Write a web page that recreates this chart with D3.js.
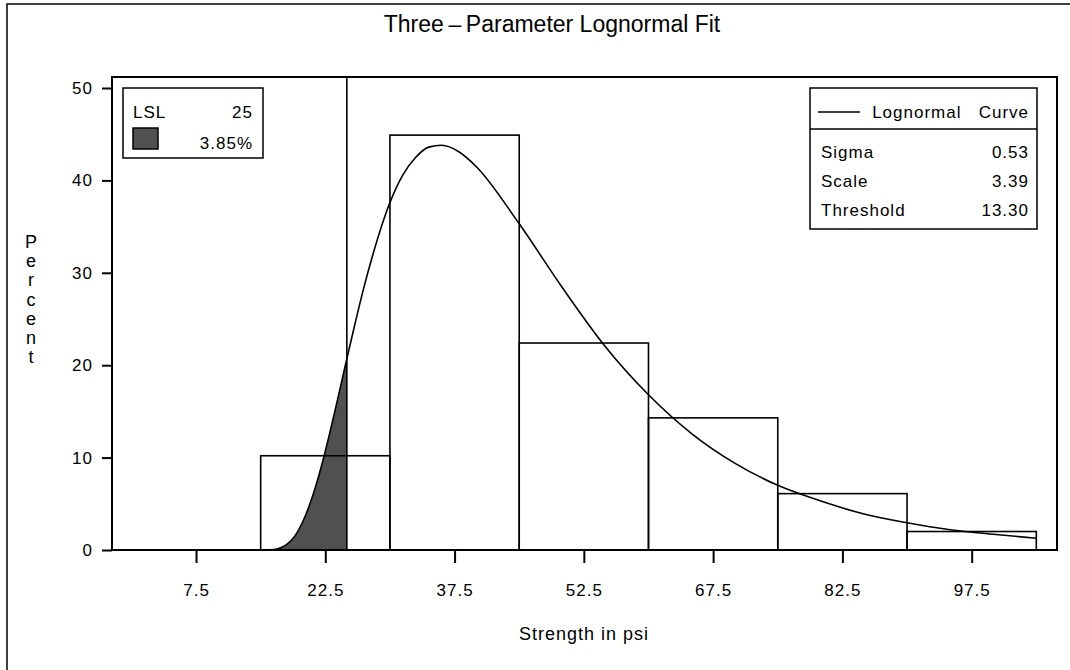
<!DOCTYPE html>
<html>
<head>
<meta charset="utf-8">
<script src="https://cdn.jsdelivr.net/npm/d3@7"></script>
<style>
  body { margin: 0; background: #fff; }
  text { font-family: "Liberation Sans", Arial, sans-serif; fill: #000; }
</style>
</head>
<body>
<div id="chart"></div>
<script>
// Size
const WIDTH = 1070;
const HEIGHT = 670;

// Histogram bins (lower edge) and percent
const binStart = [0, 15, 30, 45, 60, 75, 90];
const binWidth = 15;
const binPct = [0, 10.2, 44.9, 22.4, 14.3, 6.1, 2.0];

// Tick labels
const xTicks = [7.5, 22.5, 37.5, 52.5, 67.5, 82.5, 97.5];
const yTicks = [0, 10, 20, 30, 40, 50];

// Fitted curve
const curveX = [13.3, 15, 16, 17, 18, 19, 20, 21, 22, 23, 24, 25, 26, 27, 28, 30, 31.5, 33, 34.5, 36, 38, 40, 45, 50, 55, 60, 65, 70, 75, 80, 85, 90, 95, 100, 105];
const curvePct = [0, 0, 0.02, 0.14, 0.57, 1.56, 3.3, 5.75, 8.9, 12.6, 16.6, 20.7, 24.7, 28.5, 31.9, 37.6, 40.6, 42.5, 43.6, 43.8, 43.1, 41.5, 35.3, 28.4, 22.0, 16.8, 12.6, 9.4, 7.0, 5.3, 3.9, 2.95, 2.2, 1.7, 1.28];

const LSL = 25;
const lslPct = "3.85%";
const fitNames = ["Sigma", "Scale", "Threshold"];
const fitValues = ["0.53", "3.39", "13.30"];

const FILL = "#505050";
const FS = "17px";
const LS = "1px";

const svg = d3
  .select("#chart")
  .append("svg")
  .attr("width", WIDTH)
  .attr("height", HEIGHT);

// Outer border (only left/top visible)
svg
  .append("rect")
  .attr("x", 7)
  .attr("y", 4)
  .attr("width", WIDTH + 20)
  .attr("height", HEIGHT + 20)
  .attr("fill", "none")
  .attr("stroke", "#000")
  .attr("stroke-width", 1.5);

// Scales
const xScale = d3.scaleLinear().domain([-2.25, 107.4]).range([112, 1057]);
const yScale = d3.scaleLinear().domain([0, 50]).range([550, 88]);

const frameTop = 77;

// Title
svg
  .append("text")
  .attr("x", 552)
  .attr("y", 32)
  .attr("text-anchor", "middle")
  .style("font-size", "23px")
  .text("Three\u2009\u2013\u2009Parameter  Lognormal  Fit");

// Shaded area under curve below LSL
const tailX = [];
const tailY = [];
curveX.forEach((v, i) => {
  if (v <= LSL) {
    tailX.push(v);
    tailY.push(curvePct[i]);
  }
});
const area = d3
  .area()
  .x((d, i) => xScale(tailX[i]))
  .y0(yScale(0))
  .y1((d, i) => yScale(tailY[i]))
  .curve(d3.curveMonotoneX);
svg
  .append("path")
  .attr("d", area(tailX))
  .attr("fill", FILL);

// Bars
svg
  .selectAll("rect.bar")
  .data(binPct)
  .enter()
  .append("rect")
  .attr("class", "bar")
  .attr("x", (d, i) => xScale(binStart[i]))
  .attr("y", (d) => yScale(d))
  .attr("width", (d, i) => xScale(binStart[i] + binWidth) - xScale(binStart[i]))
  .attr("height", (d) => yScale(0) - yScale(d))
  .attr("fill", "none")
  .attr("stroke", "#000")
  .attr("stroke-width", 1.6);

// Curve
const line = d3
  .line()
  .x((d, i) => xScale(curveX[i]))
  .y((d, i) => yScale(curvePct[i]))
  .curve(d3.curveMonotoneX);
svg
  .append("path")
  .attr("d", line(curveX))
  .attr("fill", "none")
  .attr("stroke", "#000")
  .attr("stroke-width", 1.6);

// LSL line
svg
  .append("line")
  .attr("x1", xScale(LSL))
  .attr("x2", xScale(LSL))
  .attr("y1", frameTop)
  .attr("y2", yScale(0))
  .attr("stroke", "#000")
  .attr("stroke-width", 1.6);

// Plot frame
svg
  .append("rect")
  .attr("x", 112)
  .attr("y", frameTop)
  .attr("width", 1057 - 112)
  .attr("height", yScale(0) - frameTop)
  .attr("fill", "none")
  .attr("stroke", "#000")
  .attr("stroke-width", 2);

// Axes
const xAxis = d3
  .axisBottom(xScale)
  .tickValues(xTicks)
  .tickFormat(d3.format(".1f"))
  .tickSize(13)
  .tickPadding(21);
const gx = svg
  .append("g")
  .attr("transform", "translate(0," + yScale(0) + ")")
  .call(xAxis);

const yAxis = d3
  .axisLeft(yScale)
  .tickValues(yTicks)
  .tickSize(10)
  .tickPadding(9);
const gy = svg.append("g").attr("transform", "translate(112,0)").call(yAxis);

[gx, gy].forEach((g) => {
  g.select(".domain").remove();
  g.selectAll(".tick line").attr("stroke", "#000").attr("stroke-width", 2);
  g.selectAll(".tick text")
    .style("font-size", FS)
    .style("letter-spacing", LS)
    .style("font-family", "'Liberation Sans', Arial, sans-serif")
    .attr("fill", "#000");
});

// Axis labels
svg
  .append("text")
  .attr("x", 584)
  .attr("y", 640)
  .attr("text-anchor", "middle")
  .style("font-size", "18px")
  .style("letter-spacing", LS)
  .text("Strength  in  psi");

"Percent".split("").forEach((ch, i) => {
  svg
    .append("text")
    .attr("x", 31)
    .attr("y", 248 + i * 19.2)
    .attr("text-anchor", "middle")
    .style("font-size", "18px")
    .text(ch);
});

// LSL legend
svg
  .append("rect")
  .attr("x", 123)
  .attr("y", 88)
  .attr("width", 140)
  .attr("height", 70)
  .attr("fill", "#fff")
  .attr("stroke", "#000")
  .attr("stroke-width", 1.5);
svg
  .append("text")
  .attr("x", 133)
  .attr("y", 118)
  .style("font-size", FS)
  .style("letter-spacing", LS)
  .text("LSL");
svg
  .append("text")
  .attr("x", 253)
  .attr("y", 118)
  .attr("text-anchor", "end")
  .style("font-size", FS)
  .style("letter-spacing", LS)
  .text(LSL);
svg
  .append("rect")
  .attr("x", 133)
  .attr("y", 128)
  .attr("width", 25)
  .attr("height", 21)
  .attr("fill", FILL)
  .attr("stroke", "#000")
  .attr("stroke-width", 1.5);
svg
  .append("text")
  .attr("x", 253)
  .attr("y", 149)
  .attr("text-anchor", "end")
  .style("font-size", FS)
  .style("letter-spacing", LS)
  .text(lslPct);

// Fit legend
svg
  .append("rect")
  .attr("x", 810)
  .attr("y", 88)
  .attr("width", 227)
  .attr("height", 141)
  .attr("fill", "#fff")
  .attr("stroke", "#000")
  .attr("stroke-width", 1.5);
svg
  .append("line")
  .attr("x1", 810)
  .attr("x2", 1037)
  .attr("y1", 129)
  .attr("y2", 129)
  .attr("stroke", "#000")
  .attr("stroke-width", 1.5);
svg
  .append("line")
  .attr("x1", 818)
  .attr("x2", 860)
  .attr("y1", 112)
  .attr("y2", 112)
  .attr("stroke", "#000")
  .attr("stroke-width", 1.6);
svg
  .append("text")
  .attr("x", 1029)
  .attr("y", 118)
  .attr("text-anchor", "end")
  .style("font-size", FS)
  .style("letter-spacing", LS)
  .text("Lognormal\u00a0\u00a0 Curve");

fitNames.forEach((name, i) => {
  svg
    .append("text")
    .attr("x", 821)
    .attr("y", 158 + i * 29)
    .style("font-size", FS)
    .style("letter-spacing", LS)
    .text(name);
  svg
    .append("text")
    .attr("x", 1029)
    .attr("y", 158 + i * 29)
    .attr("text-anchor", "end")
    .style("font-size", FS)
    .style("letter-spacing", LS)
    .text(fitValues[i]);
});
</script>
</body>
</html>
